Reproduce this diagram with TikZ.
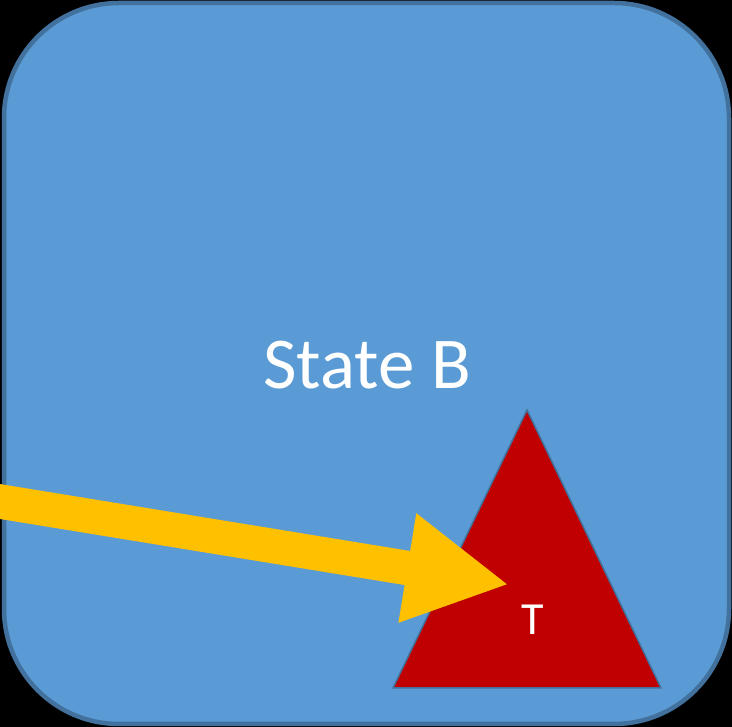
\documentclass[tikz,border=0pt]{standalone}
\usepackage{fontspec}
\setmainfont{Carlito}
\usepackage{tikz}
\usetikzlibrary{
    arrows.meta,
    positioning,
    calc
}
\definecolor{Bfill}{RGB}{91, 155, 213}
\definecolor{Bline}{RGB}{65, 113, 156}
\definecolor{Tred}{RGB}{192, 0, 0}
\definecolor{Ayellow}{RGB}{255, 192, 0}
\tikzset{
    bstate/.style={
        rectangle, rounded corners=115pt, draw=Bline, line width=4.5pt,
        fill=Bfill, minimum width=725pt, minimum height=721pt, inner sep=0pt
    },
    blabel/.style={
        text=white, inner sep=0pt, font=\fontsize{73}{78}\selectfont
    },
    tlabel/.style={
        text=white, inner sep=0pt, font=\fontsize{46}{50}\selectfont
    },
    ttri/.style={fill=Tred, draw=Bline, line width=1.5pt, line join=miter},
    aarr/.style={-{Triangle[length=103pt, width=103pt]}, line width=34.5pt, Ayellow},
}

\begin{document}
\begin{tikzpicture}[x=1pt, y=1pt]

    \fill [black] (0,0) rectangle (732,727);
    \useasboundingbox (0,0) rectangle (732,727);

    \node [bstate] (stateB) at (366.5,363.5) {};
    \node [blabel] (nameB) at (367,362) {State B};

    % target triangle
    \coordinate (t1) at (527,317);
    \coordinate (t2) at (393,39);
    \coordinate (t3) at (661,39);
    \draw [ttri] (t1) -- (t2) -- (t3) -- cycle;
    \node [tlabel] (tname) at (533,107) {T};

    % incoming transition
    \coordinate (ain) at (-5,226.3);
    \coordinate (aend) at (509,142.4);
    \draw [aarr] (ain) -- (aend);

\end{tikzpicture}
\end{document}
